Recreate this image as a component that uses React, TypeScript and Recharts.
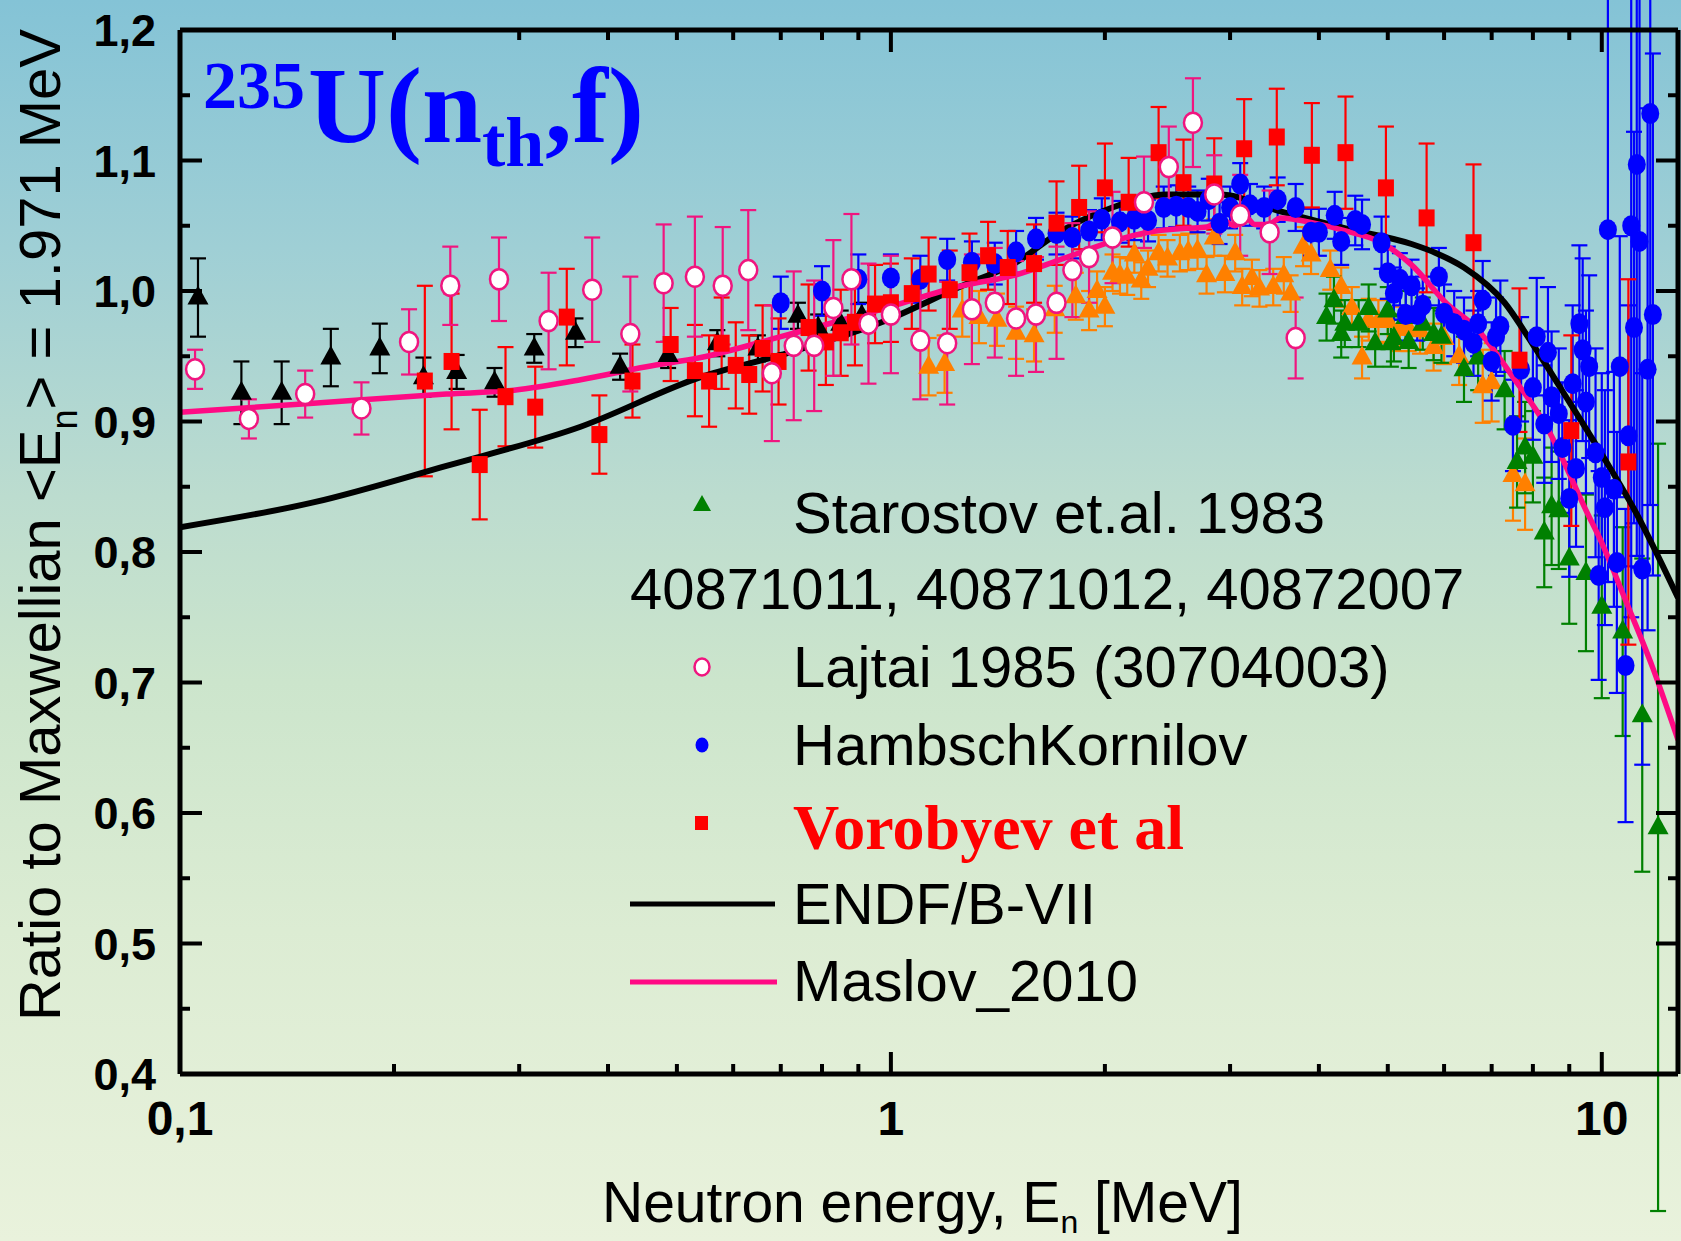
import React from "react";
import { ComposedChart, XAxis, YAxis, Scatter, Line, ErrorBar } from "recharts";

type Pt = [number, number, number]; // energy MeV, ratio, error
type Cv = [number, number];

// Starostov et al. 1983 (EXFOR 40871011 / 40871012 / 40872007)
const starostovLow: Pt[] = [
  [0.106, 0.995, 0.030], [0.122, 0.922, 0.024], [0.139, 0.922, 0.024], [0.163, 0.949, 0.022],
  [0.191, 0.956, 0.019], [0.22, 0.934, 0.015], [0.245, 0.938, 0.013], [0.277, 0.93, 0.011],
  [0.315, 0.956, 0.011], [0.36, 0.968, 0.011], [0.416, 0.942, 0.01], [0.486, 0.951, 0.01],
  [0.57, 0.96, 0.01], [0.65, 0.956, 0.01], [0.74, 0.981, 0.01], [0.79, 0.972, 0.01],
  [0.85, 0.975, 0.01], [0.91, 0.981, 0.01],
];
const starostovMid: Pt[] = [
  [1.13, 0.942, 0.022], [1.19, 0.944, 0.022], [1.26, 0.985, 0.02], [1.33, 0.98, 0.02],
  [1.41, 0.978, 0.02], [1.5, 0.968, 0.02], [1.59, 0.966, 0.02], [1.7, 0.986, 0.018],
  [1.82, 0.996, 0.018], [1.9, 0.985, 0.015], [1.95, 1.0, 0.015], [2.0, 0.988, 0.015],
  [2.05, 1.014, 0.014], [2.1, 1.012, 0.014], [2.15, 1.011, 0.014], [2.2, 1.028, 0.014],
  [2.25, 1.008, 0.014], [2.3, 1.017, 0.014], [2.38, 1.029, 0.014], [2.45, 1.025, 0.014],
  [2.55, 1.029, 0.014], [2.62, 1.03, 0.014], [2.7, 1.031, 0.014], [2.78, 1.012, 0.014],
  [2.85, 1.041, 0.014], [2.95, 1.013, 0.014], [3.05, 1.029, 0.014], [3.12, 1.003, 0.014],
  [3.22, 1.01, 0.014], [3.3, 1.002, 0.014], [3.45, 1.003, 0.014], [3.57, 1.012, 0.014],
  [3.65, 0.998, 0.014], [3.8, 1.034, 0.015], [3.9, 1.028, 0.015], [4.15, 1.016, 0.015],
  [4.3, 1.003, 0.015], [4.45, 0.987, 0.016], [4.6, 0.949, 0.016], [4.7, 0.978, 0.016],
  [4.85, 0.977, 0.016], [5.0, 0.977, 0.017], [5.2, 0.971, 0.017], [5.35, 0.971, 0.017],
  [5.55, 0.97, 0.018], [5.8, 0.957, 0.018], [6.0, 0.964, 0.02], [6.3, 0.95, 0.022],
  [6.8, 0.927, 0.028], [7.0, 0.93, 0.03], [7.5, 0.859, 0.035], [7.8, 0.852, 0.035],
];
const starostovHigh: Pt[] = [
  [4.1, 0.98, 0.018], [4.2, 0.993, 0.018], [4.3, 0.967, 0.018], [4.35, 0.975, 0.018],
  [4.55, 0.975, 0.018], [4.7, 0.987, 0.018], [4.8, 0.96, 0.018], [5.0, 0.985, 0.018],
  [5.05, 0.96, 0.018], [5.1, 0.964, 0.018], [5.3, 0.98, 0.02], [5.35, 0.961, 0.02],
  [5.6, 0.975, 0.02], [5.8, 0.967, 0.02], [5.95, 0.965, 0.02], [6.4, 0.94, 0.025],
  [6.7, 0.949, 0.025], [7.3, 0.924, 0.03], [7.6, 0.869, 0.035], [7.8, 0.88, 0.035],
  [8.0, 0.873, 0.035], [8.3, 0.815, 0.042], [8.5, 0.835, 0.045], [8.7, 0.832, 0.045],
  [9.0, 0.795, 0.05], [9.5, 0.784, 0.06], [10.0, 0.758, 0.07], [10.7, 0.739, 0.08],
  [11.4, 0.675, 0.12], [12.0, 0.589, 0.294],
];
const lajtai: Pt[] = [
  [0.105, 0.94, 0.015], [0.125, 0.902, 0.015], [0.15, 0.921, 0.018], [0.18, 0.91, 0.02],
  [0.21, 0.961, 0.025], [0.24, 1.004, 0.03], [0.281, 1.009, 0.032], [0.33, 0.977, 0.037],
  [0.38, 1.001, 0.04], [0.43, 0.967, 0.044], [0.479, 1.006, 0.045], [0.53, 1.011, 0.046],
  [0.58, 1.004, 0.045], [0.63, 1.016, 0.046], [0.68, 0.937, 0.052], [0.73, 0.958, 0.057],
  [0.78, 0.958, 0.05], [0.83, 0.987, 0.052], [0.88, 1.009, 0.05], [0.93, 0.975, 0.046],
  [1.0, 0.982, 0.045], [1.1, 0.962, 0.045], [1.2, 0.96, 0.047], [1.3, 0.986, 0.042],
  [1.4, 0.991, 0.042], [1.5, 0.979, 0.044], [1.6, 0.982, 0.044], [1.71, 0.991, 0.043],
  [1.8, 1.016, 0.036], [1.9, 1.026, 0.035], [2.05, 1.041, 0.035], [2.27, 1.068, 0.035],
  [2.46, 1.095, 0.031], [2.66, 1.129, 0.034], [2.85, 1.074, 0.03], [3.1, 1.058, 0.031],
  [3.41, 1.045, 0.032], [3.71, 0.964, 0.031],
];
const hambschKornilov: Pt[] = [
  [0.7, 0.991, 0.02], [0.8, 1.0, 0.019], [0.9, 1.009, 0.019], [1.0, 1.01, 0.018],
  [1.1, 1.009, 0.018], [1.2, 1.024, 0.016], [1.3, 1.022, 0.016], [1.4, 1.021, 0.016],
  [1.5, 1.03, 0.016], [1.6, 1.04, 0.016], [1.71, 1.044, 0.016], [1.8, 1.041, 0.016],
  [1.9, 1.046, 0.016], [1.98, 1.055, 0.016], [2.1, 1.053, 0.016], [2.2, 1.055, 0.016],
  [2.3, 1.054, 0.016], [2.42, 1.064, 0.016], [2.52, 1.065, 0.016], [2.62, 1.064, 0.016],
  [2.7, 1.061, 0.016], [2.8, 1.07, 0.016], [2.9, 1.052, 0.016], [3.0, 1.064, 0.016],
  [3.1, 1.082, 0.016], [3.2, 1.066, 0.016], [3.35, 1.064, 0.016], [3.5, 1.07, 0.017],
  [3.71, 1.064, 0.018], [3.9, 1.045, 0.018], [4.0, 1.045, 0.018], [4.21, 1.058, 0.018],
  [4.3, 1.038, 0.018], [4.5, 1.054, 0.019], [4.6, 1.051, 0.019], [4.9, 1.037, 0.02],
  [5.0, 1.014, 0.02], [5.1, 0.998, 0.02], [5.2, 1.009, 0.02], [5.3, 0.982, 0.02],
  [5.4, 1.004, 0.02], [5.5, 0.982, 0.02], [5.6, 0.989, 0.022], [5.9, 1.011, 0.022],
  [6.0, 0.983, 0.022], [6.2, 0.975, 0.025], [6.4, 0.97, 0.025], [6.6, 0.96, 0.025],
  [6.7, 0.975, 0.025], [6.8, 0.993, 0.03], [7.0, 0.946, 0.03], [7.1, 0.965, 0.03],
  [7.2, 0.973, 0.035], [7.5, 0.897, 0.035], [7.7, 0.94, 0.04], [8.0, 0.926, 0.04],
  [8.1, 0.965, 0.045], [8.3, 0.898, 0.045], [8.4, 0.953, 0.05], [8.5, 0.919, 0.05],
  [8.7, 0.906, 0.05], [8.8, 0.88, 0.05], [9.0, 0.841, 0.06], [9.1, 0.929, 0.06],
  [9.2, 0.864, 0.06], [9.3, 0.975, 0.06], [9.4, 0.955, 0.07], [9.5, 0.915, 0.07],
  [9.6, 0.942, 0.07], [9.8, 0.876, 0.08], [9.9, 0.782, 0.08], [10.0, 0.857, 0.08],
  [10.1, 0.834, 0.09], [10.2, 1.047, 0.27], [10.4, 0.848, 0.09], [10.5, 0.792, 0.1],
  [10.6, 0.942, 0.1], [10.8, 0.713, 0.12], [10.9, 0.889, 0.1], [11.0, 1.05, 0.3],
  [11.1, 0.972, 0.15], [11.2, 1.097, 0.3], [11.3, 1.038, 0.25], [11.4, 0.787, 0.15],
  [11.6, 0.94, 0.2], [11.7, 1.136, 0.3], [11.8, 0.982, 0.2],
];
const vorobyev: Pt[] = [
  [0.221, 0.931, 0.073], [0.241, 0.946, 0.052], [0.264, 0.867, 0.042], [0.287, 0.919, 0.038],
  [0.316, 0.911, 0.031], [0.35, 0.98, 0.037], [0.389, 0.89, 0.03], [0.433, 0.931, 0.028],
  [0.49, 0.959, 0.028], [0.53, 0.939, 0.035], [0.555, 0.931, 0.035], [0.578, 0.96, 0.035],
  [0.605, 0.943, 0.033], [0.632, 0.936, 0.03], [0.66, 0.956, 0.033], [0.695, 0.946, 0.033],
  [0.766, 0.972, 0.033], [0.81, 0.961, 0.033], [0.85, 0.968, 0.033], [0.89, 0.976, 0.033],
  [0.95, 0.99, 0.03], [1.0, 0.991, 0.03], [1.07, 0.998, 0.027], [1.13, 1.013, 0.028],
  [1.21, 1.001, 0.03], [1.29, 1.014, 0.03], [1.37, 1.027, 0.026], [1.46, 1.018, 0.028],
  [1.59, 1.021, 0.03], [1.71, 1.052, 0.032], [1.84, 1.064, 0.032], [2.0, 1.079, 0.034],
  [2.16, 1.068, 0.034], [2.38, 1.106, 0.035], [2.58, 1.083, 0.033], [2.85, 1.082, 0.035],
  [3.14, 1.109, 0.038], [3.49, 1.118, 0.037], [3.91, 1.104, 0.04], [4.36, 1.106, 0.043],
  [4.97, 1.079, 0.047], [5.67, 1.056, 0.057], [6.6, 1.037, 0.06], [7.66, 0.947, 0.055],
  [9.06, 0.893, 0.073], [10.9, 0.869, 0.14],
];
const endfB7: Cv[] = [
  [0.1, 0.819], [0.154, 0.838], [0.237, 0.866], [0.366, 0.896], [0.54, 0.934], [0.7, 0.951],
  [0.97, 0.976], [1.26, 1.004], [1.49, 1.021], [1.75, 1.047], [2.05, 1.064], [2.44, 1.074],
  [2.9, 1.074], [3.53, 1.061], [4.36, 1.048], [5.4, 1.036], [5.85, 1.029], [6.4, 1.018],
  [7.3, 0.991], [8.0, 0.959], [9.0, 0.915], [10.1, 0.871], [11.1, 0.833], [12.8, 0.765],
];
const maslov2010: Cv[] = [
  [0.1, 0.907], [0.154, 0.914], [0.237, 0.921], [0.295, 0.924], [0.366, 0.932], [0.453, 0.942],
  [0.54, 0.949], [0.7, 0.965], [0.97, 0.986], [1.26, 1.004], [1.49, 1.012], [1.75, 1.025],
  [2.05, 1.038], [2.3, 1.045], [2.6, 1.048], [2.78, 1.049], [2.91, 1.055], [3.05, 1.05],
  [3.15, 1.057], [3.25, 1.051], [3.4, 1.051], [3.53, 1.056], [3.94, 1.052], [4.36, 1.046],
  [4.9, 1.037], [5.4, 1.02], [6.06, 0.99], [6.65, 0.972], [7.5, 0.934], [8.4, 0.894],
  [9.5, 0.832], [10.0, 0.807], [10.8, 0.763], [11.8, 0.711], [12.8, 0.656],
];

const xMajor = [0.1, 1, 10];
const xTicks = [0.1, 0.2, 0.3, 0.4, 0.5, 0.6, 0.7, 0.8, 0.9, 1, 2, 3, 4, 5, 6, 7, 8, 9, 10];
const yTicks = [0.4, 0.45, 0.5, 0.55, 0.6, 0.65, 0.7, 0.75, 0.8, 0.85, 0.9, 0.95, 1.0, 1.05, 1.1, 1.15, 1.2];

const SANS = "'Liberation Sans', Arial, sans-serif";
const SERIF = "'Liberation Serif', 'Times New Roman', serif";
const PINK = "#f0157f";
const MASLOV = "#ff0a84";

const pts = (rows: Pt[]) => rows.map(([x, y, err]) => ({ x, y, err }));
const curve = (rows: Cv[]) => rows.map(([x, y]) => ({ x, y }));
const comma = (v: number) => String(v).replace(".", ",");
const isMajorY = (v: number) => Math.abs(v * 10 - Math.round(v * 10)) < 1e-6;

const LONG = 22;
const SHORT = 10;

const bottomTick = (p: any) => {
  const v = p.payload.value;
  const major = xMajor.includes(v);
  return (
    <g>
      <line x1={p.x} x2={p.x} y1={p.y} y2={p.y - (major ? LONG : SHORT)} stroke="#000" strokeWidth={4} />
      {major && (
        <text x={p.x} y={p.y + 61} textAnchor="middle" fontSize={48} fontWeight="bold" fontFamily={SANS}>
          {comma(v)}
        </text>
      )}
    </g>
  );
};
const topTick = (p: any) => {
  const major = xMajor.includes(p.payload.value);
  return <line x1={p.x} x2={p.x} y1={p.y} y2={p.y + (major ? LONG : SHORT)} stroke="#000" strokeWidth={4} />;
};
const leftTick = (p: any) => {
  const v = p.payload.value;
  const major = isMajorY(v);
  return (
    <g>
      <line x1={p.x} x2={p.x + (major ? LONG : SHORT)} y1={p.y} y2={p.y} stroke="#000" strokeWidth={4} />
      {major && (
        <text x={p.x - 24} y={p.y + 16} textAnchor="end" fontSize={45} fontWeight="bold" fontFamily={SANS}>
          {v.toFixed(1).replace(".", ",")}
        </text>
      )}
    </g>
  );
};
const rightTick = (p: any) => {
  const major = isMajorY(p.payload.value);
  return <line x1={p.x} x2={p.x - (major ? LONG : SHORT)} y1={p.y} y2={p.y} stroke="#000" strokeWidth={4} />;
};

const triangle = (fill: string) => (p: any) => (
  <polygon points={`${p.cx},${p.cy - 12} ${p.cx - 10.5},${p.cy + 7} ${p.cx + 10.5},${p.cy + 7}`} fill={fill} />
);
const openCircle = (p: any) => (
  <ellipse cx={p.cx} cy={p.cy} rx={9} ry={10} fill="#fff" stroke={PINK} strokeWidth={2.5} />
);
const dot = (p: any) => <ellipse cx={p.cx} cy={p.cy} rx={9} ry={10.5} fill="#0000ff" />;
const square = (p: any) => <rect x={p.cx - 8} y={p.cy - 8.5} width={16} height={17} fill="#ff0000" />;

export default function App() {
  const series = (rows: Pt[], color: string, shape: any, name: string) => (
    <Scatter key={name} name={name} data={pts(rows)} dataKey="y" shape={shape} isAnimationActive={false}>
      <ErrorBar dataKey="err" direction="y" width={8} stroke={color} strokeWidth={2.2} isAnimationActive={false} />
    </Scatter>
  );
  const axisLine = { stroke: "#000", strokeWidth: 5 };

  return (
    <div
      style={{
        position: "absolute",
        left: 0,
        top: 0,
        width: 1681,
        height: 1241,
        background:
          "linear-gradient(to bottom, #84c3d6 0%, #9fcfd5 20%, #bcdccf 40%, #cce5cc 55%, #dcecd3 75%, #e9f2dc 100%)",
      }}
    >
      <ComposedChart width={1681} height={1241} margin={{ top: 20, right: 0, bottom: 107, left: 80 }}>
        <XAxis
          dataKey="x"
          type="number"
          scale="log"
          domain={[0.1, 12.8]}
          allowDataOverflow
          ticks={xTicks}
          interval={0}
          height={60}
          tickSize={0}
          tickMargin={0}
          tick={bottomTick}
          axisLine={axisLine}
          tickLine={false}
        />
        <XAxis
          xAxisId="top"
          orientation="top"
          dataKey="x"
          type="number"
          scale="log"
          domain={[0.1, 12.8]}
          allowDataOverflow
          ticks={xTicks}
          interval={0}
          height={10}
          tickSize={0}
          tickMargin={0}
          tick={topTick}
          axisLine={axisLine}
          tickLine={false}
        />
        <YAxis
          type="number"
          domain={[0.4, 1.2]}
          allowDataOverflow
          ticks={yTicks}
          interval={0}
          width={100}
          tickSize={0}
          tickMargin={0}
          tick={leftTick}
          axisLine={axisLine}
          tickLine={false}
        />
        <YAxis
          yAxisId="right"
          orientation="right"
          type="number"
          domain={[0.4, 1.2]}
          allowDataOverflow
          ticks={yTicks}
          interval={0}
          width={3}
          tickSize={0}
          tickMargin={0}
          tick={rightTick}
          axisLine={axisLine}
          tickLine={false}
        />
        {series(starostovMid, "#ff8000", triangle("#ff8000"), "mid")}
        {series(starostovHigh, "#008000", triangle("#008000"), "high")}
        {series(starostovLow, "#000000", triangle("#000000"), "low")}
        {series(hambschKornilov, "#0000ff", dot, "hk")}
        {series(vorobyev, "#ff0000", square, "vor")}
        <Line data={curve(endfB7)} dataKey="y" type="monotone" dot={false} stroke="#000" strokeWidth={6} isAnimationActive={false} />
        <Line data={curve(maslov2010)} dataKey="y" type="monotone" dot={false} stroke={MASLOV} strokeWidth={5.5} isAnimationActive={false} />
        {series(lajtai, PINK, openCircle, "laj")}
      </ComposedChart>

      <svg width={1681} height={1241} style={{ position: "absolute", left: 0, top: 0, pointerEvents: "none" }}>
        {/* title */}
        <g fill="#0000ff" fontFamily={SERIF} fontWeight="bold">
          <text x={203} y={108} fontSize={68}>235</text>
          <text x={308} y={142} fontSize={108}>U(n</text>
          <text x={482} y={166} fontSize={70}>th</text>
          <text x={545} y={142} fontSize={108}>,f)</text>
        </g>

        {/* axis titles */}
        <text transform="translate(60,525) rotate(-90)" textAnchor="middle" fontSize={58} fontFamily={SANS}>
          Ratio to Maxwellian &lt;E<tspan dy={17} fontSize={36}>n</tspan>
          <tspan dy={-17}>&gt; = 1.971 MeV</tspan>
        </text>
        <text x={602} y={1222} fontSize={57} fontFamily={SANS}>
          Neutron energy, E<tspan dy={11} fontSize={32}>n</tspan>
          <tspan dy={-11}> [MeV]</tspan>
        </text>

        {/* legend */}
        <g fontFamily={SANS} fontSize={58}>
          <polygon points="702,495 693,511 711,511" fill="#008000" />
          <text x={793} y={533}>Starostov et.al. 1983</text>
          <text x={630} y={609}>40871011, 40871012, 40872007</text>
          <ellipse cx={702} cy={667} rx={7.5} ry={8.5} fill="#fff" stroke={PINK} strokeWidth={2.5} />
          <text x={793} y={687}>Lajtai 1985 (30704003)</text>
          <ellipse cx={702} cy={745} rx={6.5} ry={7.5} fill="#0000ff" />
          <text x={793} y={765}>HambschKornilov</text>
          <rect x={695} y={816} width={13} height={14} fill="#ff0000" />
          <text x={793} y={849} fontFamily={SERIF} fontWeight="bold" fontSize={64} fill="#ff0000">
            Vorobyev et al
          </text>
          <line x1={630} x2={775} y1={904} y2={904} stroke="#000" strokeWidth={5} />
          <text x={793} y={924}>ENDF/B-VII</text>
          <line x1={630} x2={777} y1={982} y2={982} stroke={MASLOV} strokeWidth={5} />
          <text x={793} y={1001}>Maslov_2010</text>
        </g>
      </svg>
    </div>
  );
}
